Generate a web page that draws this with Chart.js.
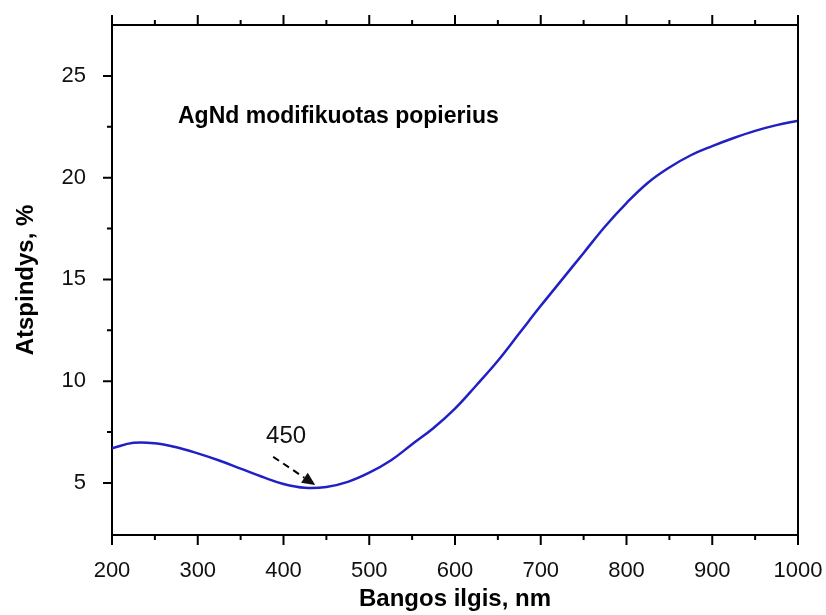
<!DOCTYPE html>
<html>
<head>
<meta charset="utf-8">
<script src="https://cdn.jsdelivr.net/npm/chart.js@4.4.1/dist/chart.umd.min.js"></script>
<style>
  body { margin: 0; background: #fff; }
  canvas { display: block; }
</style>
</head>
<body>
<canvas id="myChart" width="826" height="615"></canvas>
<script>
// wavelength, nm
const wavelength = [200, 225, 250, 275, 300, 325, 350, 375, 400, 425, 450, 475, 500,
  525, 550, 575, 600, 625, 650, 675, 700, 725, 750, 775, 800, 825, 850, 875, 900,
  925, 950, 975, 1000]
// reflectance, %
const reflectance = [6.7, 6.97, 6.95, 6.75, 6.45, 6.1, 5.7, 5.3, 4.95, 4.76, 4.8, 5.05, 5.5,
  6.1, 6.9, 7.7, 8.65, 9.8, 11.0, 12.35, 13.7, 15.0, 16.3, 17.6, 18.75, 19.75, 20.5, 21.1, 21.55,
  21.95, 22.3, 22.58, 22.8]

const xTicks = [200, 300, 400, 500, 600, 700, 800, 900, 1000]
const xMinor = [250, 350, 450, 550, 650, 750, 850, 950]
const yTicks = [5, 10, 15, 20, 25]
const yMinor = [7.5, 12.5, 17.5, 22.5]

const sampleLabel = 'AgNd modifikuotas popierius'
const peakLabel = '450'
// arrow: from [x, y] to [x, y] in data units
const arrowFrom = [388, 6.28]
const arrowTo = [437, 4.9]
const peakLabelAt = [403, 7.3]

const FONT = 'Arial, "Liberation Sans", sans-serif'

const axesPlugin = {
  id: 'axesPlugin',
  afterDraw(chart) {
    const ctx = chart.ctx
    const {left, right, top, bottom} = chart.chartArea
    const xs = chart.scales.x
    const ys = chart.scales.y
    ctx.save()
    ctx.strokeStyle = '#000'
    ctx.lineWidth = 2
    // frame top + right
    ctx.beginPath()
    ctx.moveTo(left, top)
    ctx.lineTo(right, top)
    ctx.lineTo(right, bottom)
    ctx.stroke()
    // ticks
    ctx.beginPath()
    xTicks.forEach(v => {
      const px = xs.getPixelForValue(v)
      ctx.moveTo(px, bottom); ctx.lineTo(px, bottom + 10)
      ctx.moveTo(px, top); ctx.lineTo(px, top - 10)
    })
    xMinor.forEach(v => {
      const px = xs.getPixelForValue(v)
      ctx.moveTo(px, bottom); ctx.lineTo(px, bottom + 5)
      ctx.moveTo(px, top); ctx.lineTo(px, top - 5)
    })
    yTicks.forEach(v => {
      const py = ys.getPixelForValue(v)
      ctx.moveTo(left, py); ctx.lineTo(left - 9, py)
    })
    yMinor.forEach(v => {
      const py = ys.getPixelForValue(v)
      ctx.moveTo(left, py); ctx.lineTo(left - 5, py)
    })
    ctx.stroke()

    // sample label
    ctx.fillStyle = '#000'
    ctx.font = 'bold 23px ' + FONT
    ctx.textBaseline = 'alphabetic'
    ctx.textAlign = 'left'
    ctx.fillText(sampleLabel, left + 66, top + 98)

    // 450 annotation
    ctx.font = '24px ' + FONT
    ctx.textAlign = 'center'
    ctx.textBaseline = 'middle'
    ctx.fillStyle = '#111'
    ctx.fillText(peakLabel, xs.getPixelForValue(peakLabelAt[0]), ys.getPixelForValue(peakLabelAt[1]))

    const x1 = xs.getPixelForValue(arrowFrom[0]), y1 = ys.getPixelForValue(arrowFrom[1])
    const x2 = xs.getPixelForValue(arrowTo[0]), y2 = ys.getPixelForValue(arrowTo[1])
    const ang = Math.atan2(y2 - y1, x2 - x1)
    const headLen = 13
    const bx = x2 - headLen * Math.cos(ang), by = y2 - headLen * Math.sin(ang)
    ctx.setLineDash([7, 5])
    ctx.lineWidth = 2
    ctx.beginPath()
    ctx.moveTo(x1, y1)
    ctx.lineTo(bx, by)
    ctx.stroke()
    ctx.setLineDash([])
    ctx.beginPath()
    ctx.moveTo(x2, y2)
    ctx.lineTo(bx + 6 * Math.sin(ang), by - 6 * Math.cos(ang))
    ctx.lineTo(bx - 6 * Math.sin(ang), by + 6 * Math.cos(ang))
    ctx.closePath()
    ctx.fill()
    ctx.restore()
  }
}

const points = wavelength.map((w, i) => ({x: w, y: reflectance[i]}))

new Chart(document.getElementById('myChart').getContext('2d'), {
  type: 'line',
  data: {
    datasets: [{
      data: points,
      borderColor: '#2020c4',
      borderWidth: 2.5,
      pointRadius: 0,
      tension: 0.4,
      fill: false
    }]
  },
  options: {
    responsive: false,
    animation: false,
    layout: { padding: { top: 25, right: 28, left: 0, bottom: 0 } },
    plugins: { legend: { display: false }, tooltip: { enabled: false } },
    scales: {
      x: {
        type: 'linear',
        min: 200,
        max: 1000,
        grid: { display: false },
        border: { display: true, color: '#000', width: 2 },
        afterBuildTicks: scale => { scale.ticks = xTicks.map(v => ({value: v})) },
        afterFit: scale => {
          scale.height = 80
          scale.paddingLeft = 0
          scale.paddingRight = 0
        },
        ticks: {
          color: '#111',
          font: { family: FONT, size: 22 },
          padding: 15,
          maxRotation: 0,
          callback: v => String(v)
        },
        title: {
          display: true,
          text: 'Bangos ilgis, nm',
          color: '#000',
          font: { family: FONT, size: 24, weight: 'bold' },
          padding: { top: 0, bottom: 1 }
        }
      },
      y: {
        min: 2.44,
        max: 27.5,
        grid: { display: false },
        border: { display: true, color: '#000', width: 2 },
        afterBuildTicks: scale => { scale.ticks = yTicks.map(v => ({value: v})) },
        afterFit: scale => {
          scale.width = 112
          scale.paddingTop = 0
          scale.paddingBottom = 0
        },
        ticks: { color: '#111', font: { family: FONT, size: 22 }, padding: 18 },
        title: {
          display: true,
          text: 'Atspindys, %',
          color: '#000',
          font: { family: FONT, size: 24, weight: 'bold' },
          padding: { top: 12, bottom: 0 }
        }
      }
    }
  },
  plugins: [axesPlugin]
})
</script>
</body>
</html>
